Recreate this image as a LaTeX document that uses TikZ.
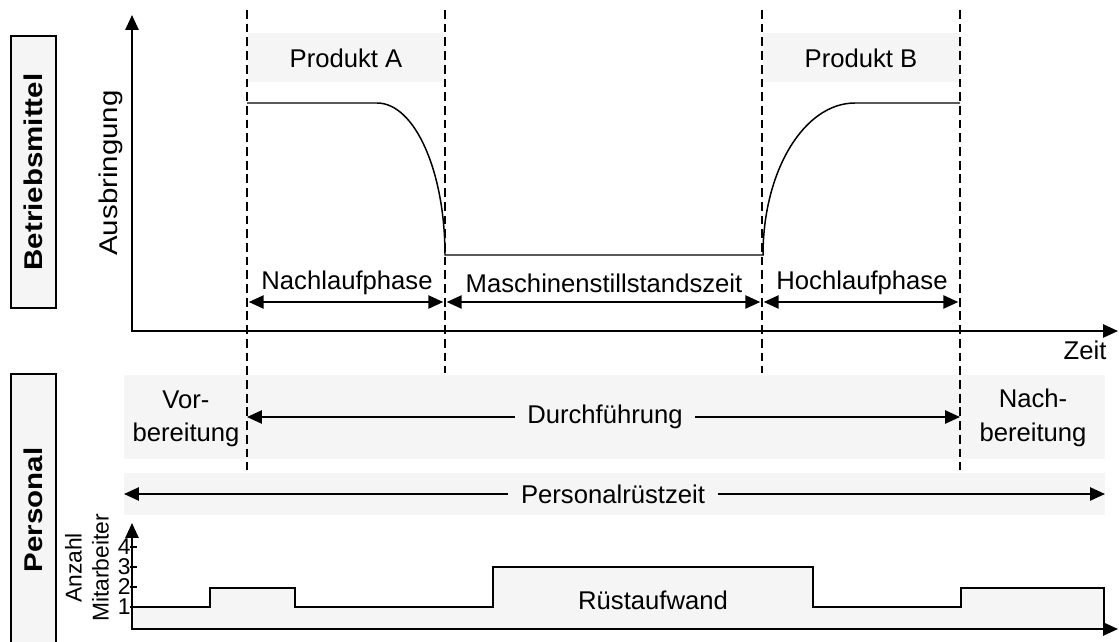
\documentclass[tikz,border=0pt]{standalone}
\usepackage{fontspec}
\setmainfont{Liberation Sans}
\newfontfamily\widefont[FakeStretch=1.15]{Liberation Sans}
\usetikzlibrary{arrows.meta}
\definecolor{bandgray}{HTML}{F4F5F4}

\begin{document}
\begin{tikzpicture}[x=0.02cm, y=-0.02cm, >={Triangle[length=8.5pt,width=7.5pt]},
    font=\fontsize{14.6}{19}\selectfont,
    sidebox/.style={draw, line width=1.2pt, fill=bandgray, rotate=90, minimum width=5.44cm, minimum height=0.9cm, font=\widefont\bfseries\fontsize{14.6}{17}\selectfont},
    dashline/.style={line width=1.3pt, dash pattern=on 5pt off 2.8pt},
    axis/.style={line width=1.1pt, <->},
    dim/.style={line width=1.1pt, <->, shorten <=1pt, shorten >=1pt},
    lbl/.style={fill=bandgray, inner xsep=7pt}]
\useasboundingbox (0,0) rectangle (1119,642);

\fill[bandgray] (248,33) rectangle (445,82);
\fill[bandgray] (763,33) rectangle (960,82);
\fill[bandgray] (124,375) rectangle (1105,459);
\fill[bandgray] (124,473) rectangle (1105,515);
\fill[bandgray] (132,629) -- (132,607) -| (210,588) -| (295,607) -| (493,567) -| (813,607) -| (961,588) -| (1104,629) -- cycle;

\node[sidebox] (bm) at (33.5,172) {Betriebsmittel};
\node[sidebox] (ps) at (33.5,510) {Personal};

\coordinate (s1) at (247,10);
\coordinate (s2) at (445,10);
\coordinate (s3) at (762,10);
\coordinate (s4) at (960,10);
\draw[dashline] (s1) -- ++(0,460);
\draw[dashline] (s2) -- ++(0,363);
\draw[dashline] (s3) -- ++(0,363);
\draw[dashline] (s4) -- ++(0,460);

\coordinate (ytop) at (132,15);
\coordinate (xend) at (1118,331);
\draw[axis] (ytop) |- (xend);
\node (zeit) at (1085,350) {Zeit};
\node[rotate=90, font=\widefont\fontsize{14.6}{17}\selectfont] (ausb) at (111,173) {Ausbringung};

\draw[line width=0.85pt] (247,103) -- (377,103) .. controls (414.6,103) and (445,171) .. (445,255) -- (763,255) .. controls (763,171) and (804,103) .. (855,103) -- (960,103);

\node (pra) at (346,58) {Produkt A};
\node (prb) at (861,58) {Produkt B};

\coordinate (pa) at (0,302);
\draw[dim] (s1 |- pa) -- (s2 |- pa);
\draw[dim] (s2 |- pa) -- (s3 |- pa);
\draw[dim] (s3 |- pa) -- (s4 |- pa);
\node (nlp) at (347,283) {Nachlaufphase};
\node (msz) at (604,283) {Maschinenstillstandszeit};
\node (hlp) at (862,283) {Hochlaufphase};

\node[lbl] (df) at (605,417) {Durchführung};
\draw[line width=1.1pt, ->] (df) -- (s1 |- df);
\draw[line width=1.1pt, ->] (df) -- (s4 |- df);
\node[align=center] (vor) at (186,419) {Vor-\\bereitung};
\node[align=center] (nach) at (1033,418) {Nach-\\bereitung};

\coordinate (rl) at (124,494);
\coordinate (rr) at (1105,494);
\node[lbl] (prz) at (613,494) {Personalrüstzeit};
\draw[line width=1.1pt, ->] (prz) -- (rl);
\draw[line width=1.1pt, ->] (prz) -- (rr);

\coordinate (ytop2) at (132,523);
\coordinate (xend2) at (1118,629);
\draw[axis] (ytop2) |- (xend2);
\draw[line width=0.9pt] (132,607) -| (210,588) -| (295,607) -| (493,567) -| (813,607) -| (961,588) -| (1104,629);
\foreach \n/\y in {1/607,2/587,3/567,4/547}{
  \draw[line width=0.8pt] (130,\y) -- (137,\y);
  \node[anchor=east, inner sep=0pt, font=\fontsize{13}{15}\selectfont] (n\n) at (131,\y) {\n};
}
\node[rotate=90, align=center, font=\fontsize{13}{15.3}\selectfont] (anz) at (87,568) {Anzahl\\Mitarbeiter};
\node (rue) at (653,600) {Rüstaufwand};
\end{tikzpicture}
\end{document}
